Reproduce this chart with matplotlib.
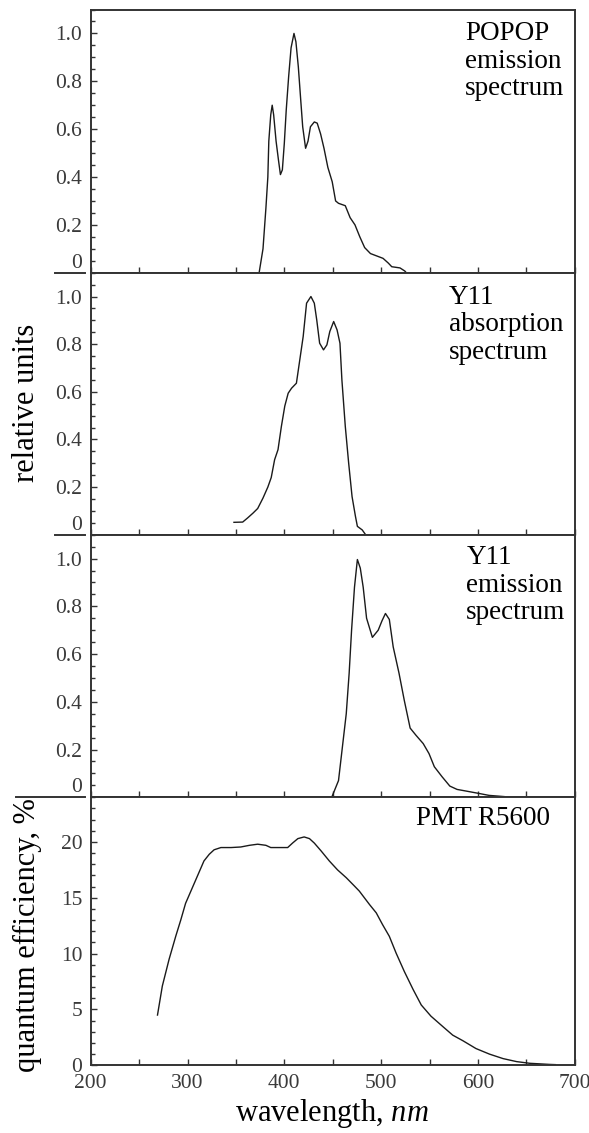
import matplotlib
matplotlib.use("Agg")
import matplotlib.pyplot as plt
from matplotlib.ticker import MultipleLocator
from matplotlib.lines import Line2D

# spectra (wavelength in nm)
popop_nm = [374, 378, 381, 383, 384, 386, 387.5, 389, 391.5, 394, 396, 398, 400, 402,
            404.5, 407, 410, 412, 414.5, 417, 419, 422, 424.5, 427, 431, 434, 437.5,
            441, 445, 449.5, 453, 456, 463, 468, 473, 478, 483, 489, 495.5, 502,
            507.5, 511, 519.5, 524.5, 526]
popop_val = [0.0, 0.10, 0.27, 0.40, 0.55, 0.66, 0.70, 0.66, 0.55, 0.47, 0.41, 0.43,
             0.54, 0.68, 0.82, 0.94, 1.0, 0.965, 0.86, 0.72, 0.61, 0.52, 0.55, 0.61,
             0.63, 0.625, 0.58, 0.52, 0.44, 0.38, 0.30, 0.29, 0.28, 0.23, 0.20, 0.15,
             0.105, 0.08, 0.07, 0.06, 0.04, 0.025, 0.02, 0.007, 0.0]

y11abs_nm = [348, 357, 362, 367.5, 372.5, 378, 383, 386.5, 390, 393.5, 397, 400.5,
             404, 407.5, 412.5, 416, 419.5, 423, 427.5, 431, 433.5, 436.5, 440.5, 444,
             447, 451, 454.5, 457.5, 459.5, 463, 466.5, 470, 473.5, 475.5, 480.5, 484]
y11abs_val = [0.052, 0.053, 0.07, 0.09, 0.11, 0.154, 0.20, 0.24, 0.315, 0.357, 0.455,
              0.54, 0.594, 0.615, 0.636, 0.734, 0.832, 0.972, 1.0, 0.972, 0.902, 0.804,
              0.776, 0.797, 0.853, 0.895, 0.86, 0.804, 0.65, 0.455, 0.30, 0.16, 0.077,
              0.035, 0.02, 0.0]

y11em_nm = [449, 452, 456, 460, 464, 467, 469.5, 472.5, 475.5, 478.5, 481.5, 485, 491,
            497, 501, 504.5, 508.5, 512.5, 518.5, 524, 530, 536, 543.5, 549.5, 555, 563,
            571, 578.5, 588, 600, 611.5, 627]
y11em_val = [0.0, 0.03, 0.07, 0.21, 0.35, 0.52, 0.70, 0.88, 0.996, 0.96, 0.88, 0.75,
             0.67, 0.70, 0.74, 0.77, 0.745, 0.63, 0.52, 0.405, 0.29, 0.26, 0.225, 0.183,
             0.128, 0.086, 0.047, 0.033, 0.026, 0.017, 0.008, 0.003]

pmt_nm = [269, 274, 281, 288, 293, 298, 303.5, 310, 317, 322.5, 327.5, 334.5, 345, 355,
          364, 372.5, 381, 386, 395, 403.5, 408.5, 414, 420.5, 426, 431, 438, 446.5,
          455, 464, 472.5, 477.5, 488, 495, 501.5, 508.5, 515.5, 524, 533, 541.5, 551.5,
          564, 574, 584.5, 598, 612, 626, 640, 653.5, 674, 680]
pmt_qe = [4.5, 7.1, 9.5, 11.6, 13.0, 14.5, 15.6, 16.9, 18.3, 18.9, 19.3, 19.5, 19.5,
          19.55, 19.7, 19.8, 19.7, 19.5, 19.5, 19.5, 19.9, 20.3, 20.45, 20.3, 19.9, 19.2,
          18.3, 17.5, 16.8, 16.05, 15.6, 14.4, 13.65, 12.6, 11.55, 10.05, 8.4, 6.8, 5.4,
          4.4, 3.45, 2.7, 2.2, 1.5, 1.0, 0.6, 0.33, 0.18, 0.08, 0.06]

panels = [
    (popop_nm, popop_val, "POPOP\nemission\nspectrum", 0.773, 0.955),
    (y11abs_nm, y11abs_val, "Y11\nabsorption\nspectrum", 0.740, 0.953),
    (y11em_nm, y11em_val, "Y11\nemission\nspectrum", 0.776, 0.959),
]

plt.rcParams['font.family'] = ['Liberation Serif', 'DejaVu Serif']
plt.rcParams['mathtext.fontset'] = 'custom'
plt.rcParams['mathtext.it'] = 'Liberation Serif:italic'
plt.rcParams['mathtext.rm'] = 'Liberation Serif'

W, H = 589, 1133
fig = plt.figure(figsize=(W / 100, H / 100), dpi=100)

left = 90.7 / W
width = (574.7 - 90.7) / W
edges = [9.5, 272.7, 534.7, 797.3, 1065.3]

spine_color = '#333333'
tick_color = '#3a3a3a'
line_color = '#1a1a1a'


def style_axes(ax):
    for sp in ax.spines.values():
        sp.set_linewidth(1.4)
        sp.set_color(spine_color)
    ax.tick_params(which='both', direction='in', top=False, right=False,
                   color=spine_color, labelsize=15.5, labelcolor=tick_color, pad=6)
    ax.tick_params(which='major', length=4.2, width=1.0)
    ax.tick_params(which='minor', length=3.0, width=1.0)
    ax.set_xlim(200, 700)
    ax.xaxis.set_major_locator(MultipleLocator(50))


axes = []
for i in range(4):
    top, bot = edges[i], edges[i + 1]
    ax = fig.add_axes([left, 1 - bot / H, width, (bot - top) / H])
    style_axes(ax)
    axes.append(ax)

for ax, (nm, val, label, tx, ty) in zip(axes[:3], panels):
    ax.plot(nm, val, color=line_color, lw=1.0)
    ax.set_ylim(0, 1.1)
    ax.set_yticks([0, 0.2, 0.4, 0.6, 0.8, 1.0], ['0', '0.2', '0.4', '0.6', '0.8', '1.0'])
    ax.yaxis.set_minor_locator(MultipleLocator(0.05))
    for t in ax.get_yticklabels():
        if t.get_text() == '0':
            t.set_verticalalignment('bottom')
    ax.tick_params(axis='x', labelbottom=False)
    ax.text(tx, ty, label, transform=ax.transAxes, ha='left', va='top',
            fontsize=19.5, linespacing=1.12, color='black')

ax = axes[3]
ax.plot(pmt_nm, pmt_qe, color=line_color, lw=1.0)
ax.set_ylim(0, 24)
ax.set_yticks([0, 5, 10, 15, 20])
ax.yaxis.set_minor_locator(MultipleLocator(1))
ax.xaxis.set_major_locator(MultipleLocator(100))
ax.xaxis.set_minor_locator(MultipleLocator(50))
ax.tick_params(axis='x', which='minor', length=4.2)
ax.text(0.672, 0.968, "PMT R5600", transform=ax.transAxes, ha='left', va='top',
        fontsize=19.5, color='black')

# small separators left of the axis at panel boundaries
for y, x0 in [(272.7, 55), (534.7, 55), (797.3, 16)]:
    fig.add_artist(Line2D([x0 / W, 85 / W], [1 - y / H, 1 - y / H],
                          color=spine_color, lw=1.4, transform=fig.transFigure))

fig.text(27 / W, 1 - 403 / H, "relative units", rotation=90, ha='center', va='center',
         fontsize=22)
fig.text(27 / W, 1 - 935 / H, "quantum efficiency, %", rotation=90, ha='center',
         va='center', fontsize=22)
fig.text(332 / W, 1 - 1113 / H, r"wavelength, $\mathit{nm}$", ha='center', va='center',
         fontsize=22)

fig.savefig("out.png", dpi=100, facecolor='white')
